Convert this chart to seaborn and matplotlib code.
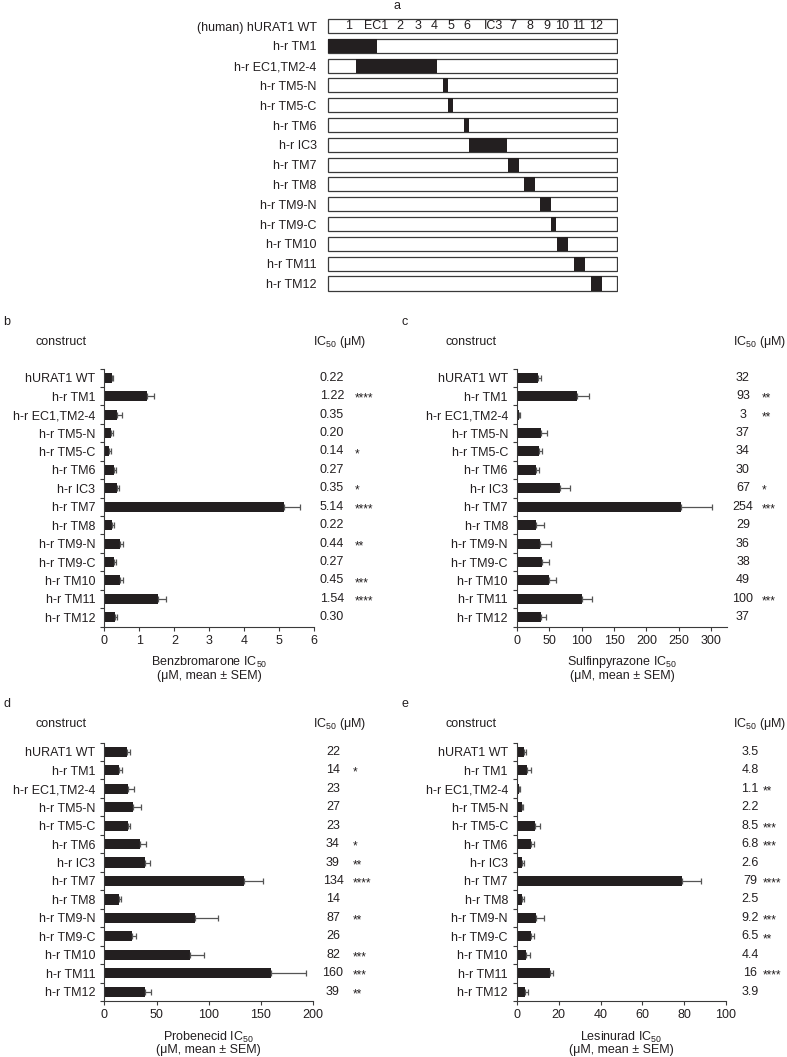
import numpy as np
import pandas as pd
import matplotlib
matplotlib.use('Agg')
import matplotlib.pyplot as plt
import matplotlib.transforms as mtransforms
import seaborn as sns

# --- data -------------------------------------------------------------
constructs = ['hURAT1 WT', 'h-r TM1', 'h-r EC1,TM2-4', 'h-r TM5-N', 'h-r TM5-C',
              'h-r TM6', 'h-r IC3', 'h-r TM7', 'h-r TM8', 'h-r TM9-N',
              'h-r TM9-C', 'h-r TM10', 'h-r TM11', 'h-r TM12']

# panel a: rat segment (percent of transporter length) per chimera
seg_start = [0, 9.7, 39.8, 41.7, 47.1, 48.9, 62.3, 67.8, 73.4, 77.0, 79.3, 85.0, 90.9]
seg_end = [16.9, 37.7, 41.6, 43.4, 48.8, 62.1, 66.1, 71.5, 77.0, 79.0, 83.1, 88.8, 94.6]
domain_labels = ['1', 'EC1', '2', '3', '4', '5', '6', 'IC3', '7', '8', '9', '10', '11', '12']
domain_pos = [7.2, 16.6, 25.0, 31.0, 36.8, 42.6, 48.2, 57.4, 63.8, 69.8, 75.8, 81.0, 86.8, 92.8]

# panel b: benzbromarone
benz_ic50 = [0.22, 1.22, 0.35, 0.20, 0.14, 0.27, 0.35, 5.14, 0.22, 0.44, 0.27, 0.45, 1.54, 0.30]
benz_sem = [0.03, 0.21, 0.14, 0.05, 0.04, 0.05, 0.06, 0.47, 0.05, 0.09, 0.07, 0.07, 0.21, 0.05]
benz_sig = ['', '****', '', '', '*', '', '*', '****', '', '**', '', '***', '****', '']

# panel c: sulfinpyrazone
sulf_ic50 = [32, 93, 3, 37, 34, 30, 67, 254, 29, 36, 38, 49, 100, 37]
sulf_sem = [5, 18, 1, 9, 4, 4, 15, 48, 13, 17, 11, 11, 16, 8]
sulf_sig = ['', '**', '**', '', '', '', '*', '***', '', '', '', '', '***', '']

# panel d: probenecid
prob_ic50 = [22, 14, 23, 27, 23, 34, 39, 134, 14, 87, 26, 82, 160, 39]
prob_sem = [2, 3, 5, 8, 1.5, 6, 5, 18, 2, 22, 4, 13, 33, 6]
prob_sig = ['', '*', '', '', '', '*', '**', '****', '', '**', '', '***', '***', '**']

# panel e: lesinurad
les_ic50 = [3.5, 4.8, 1.1, 2.2, 8.5, 6.8, 2.6, 79, 2.5, 9.2, 6.5, 4.4, 16, 3.9]
les_sem = [0.6, 2.0, 0.3, 0.8, 2.3, 1.2, 0.8, 9, 0.8, 3.7, 1.5, 1.6, 1.1, 1.5]
les_sig = ['', '', '**', '', '***', '***', '', '****', '', '***', '**', '', '****', '']

# --- style ------------------------------------------------------------
sns.set_style('white')
plt.rcParams['font.family'] = ['Liberation Sans', 'DejaVu Sans']
plt.rcParams['mathtext.fontset'] = 'custom'
plt.rcParams['mathtext.rm'] = 'Liberation Sans'
plt.rcParams['mathtext.it'] = 'Liberation Sans:italic'
plt.rcParams['mathtext.bf'] = 'Liberation Sans:bold'

W, H = 787, 1057
FS = 9
BAR = '#231f20'
AXC = '#3a3a3a'
ERR = '#555555'
TXT = '#231f20'

fig = plt.figure(figsize=(W / 100, H / 100), dpi=100)


def rect(l, r, t, b):
    return [l / W, 1 - b / H, (r - l) / W, (b - t) / H]


def ftext(x, y, s, **kw):
    kw.setdefault('fontsize', FS)
    kw.setdefault('color', TXT)
    fig.text(x / W, 1 - y / H, s, **kw)


# --- panel a ----------------------------------------------------------
ax = fig.add_axes(rect(327.3, 617.7, 16.1, 293.4))
rows = np.arange(len(constructs))
ax.barh(rows, 100, left=0, height=0.71, color='white', edgecolor=AXC, linewidth=0.9)
ax.barh(rows[1:], np.array(seg_end) - np.array(seg_start), left=seg_start,
        height=0.71, color=BAR, linewidth=0)
for lab, p in zip(domain_labels, domain_pos):
    ax.text(p, 0, lab, ha='center', va='center', fontsize=FS, color=TXT)
ax.set_xlim(-0.2, 100.2)
ax.set_ylim(len(constructs) - 0.5, -0.5)
ax.set_yticks(rows)
ax.set_yticklabels(['(human) hURAT1 WT'] + constructs[1:], fontsize=FS, color=TXT)
ax.tick_params(axis='y', length=0, pad=7.6, left=True)
ax.set_xticks([])
for s in ax.spines.values():
    s.set_visible(False)
ftext(397, 6, 'a', ha='center', va='center')


# --- bar panels -------------------------------------------------------
def draw_panel(box, values, sem, sig, fmt, xmax, xticks, drug, letter,
               letter_x, letter_y, head_x, head_ic_x, head_y, val_x, star_x):
    ax = fig.add_axes(rect(*box))
    n = len(constructs)
    df = pd.DataFrame({'construct': constructs, 'ic50': values})
    sns.barplot(data=df, x='ic50', y='construct', orient='h', color=BAR,
                saturation=1, width=0.55, errorbar=None, ax=ax, linewidth=0)
    ax.errorbar(values, np.arange(n), xerr=[np.zeros(n), sem], fmt='none',
                ecolor=ERR, elinewidth=0.9, capsize=2, capthick=0.9)
    ax.set_xlim(0, xmax)
    ax.set_xticks(xticks)
    ax.set_ylim(n - 0.5, -0.5)
    ax.set_yticks(np.arange(n))
    ax.set_yticklabels(constructs, fontsize=FS, color=TXT)
    ax.set_yticks(np.arange(-0.5, n, 1), minor=True)
    ax.tick_params(axis='y', which='major', length=0, pad=6.5, left=True)
    ax.tick_params(axis='y', which='minor', length=3, width=0.8, color=AXC, left=True)
    ax.tick_params(axis='x', length=3, width=0.8, color=AXC, bottom=True,
                   labelsize=FS, labelcolor=TXT, pad=3)
    ax.set_ylabel('')
    ax.set_xlabel('')
    for s in ['top', 'right']:
        ax.spines[s].set_visible(False)
    for s in ['left', 'bottom']:
        ax.spines[s].set_color(AXC)
        ax.spines[s].set_linewidth(0.8)

    # two-line axis title under the x axis
    cx = (box[0] + box[1]) / 2
    ftext(cx, box[3] + 36, f'{drug} IC$_{{50}}$', ha='center', va='center')
    ftext(cx, box[3] + 49, '(μM, mean ± SEM)', ha='center', va='center')

    tr = mtransforms.blended_transform_factory(fig.transFigure, ax.transData)
    for i, (v, st) in enumerate(zip(values, sig)):
        ax.text(val_x / W, i, fmt.format(v), transform=tr, ha='center',
                va='center', fontsize=FS, color=TXT)
        if st:
            ax.text(star_x / W, i + 0.14, st, transform=tr, ha='left',
                    va='center', fontsize=8.5, color=TXT)

    ftext(letter_x, letter_y, letter, ha='left', va='center')
    ftext(head_x, head_y, 'construct', ha='left', va='center')
    ftext(head_ic_x, head_y, 'IC$_{50}$ (μM)', ha='left', va='center')


draw_panel((104.5, 314, 368.5, 626.5), benz_ic50, benz_sem, benz_sig, '{:.2f}',
           6, range(0, 7), 'Benzbromarone', 'b', 3, 322, 35, 313, 342, 332, 355)
draw_panel((517, 727.3, 368.5, 626.5), sulf_ic50, sulf_sem, sulf_sig, '{:.0f}',
           325, range(0, 301, 50), 'Sulfinpyrazone', 'c', 402, 322, 446, 733, 342, 743, 762)
draw_panel((104.5, 313, 742.5, 1001), prob_ic50, prob_sem, prob_sig, '{:.0f}',
           200, range(0, 201, 50), 'Probenecid', 'd', 3, 704, 35, 313, 724, 333, 353)
draw_panel((517, 726, 742.5, 1001), les_ic50, les_sem, les_sig, '{:.2g}',
           100, range(0, 101, 20), 'Lesinurad', 'e', 402, 704, 446, 733, 724, 750, 763)

fig.savefig('out.png', dpi=100)
